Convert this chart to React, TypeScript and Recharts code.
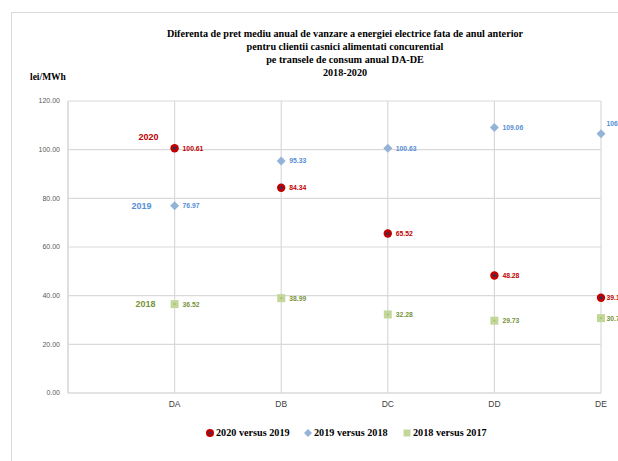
import React from "react";
import { ScatterChart, Scatter, XAxis, YAxis, CartesianGrid, LabelList } from "recharts";

const categories = ["DA", "DB", "DC", "DD", "DE"];
const values2020 = [100.61, 84.34, 65.52, 48.28, 39.13];
const values2019 = [76.97, 95.33, 100.63, 109.06, 106.54];
const values2018 = [36.52, 38.99, 32.28, 29.73, 30.77];
const yTicks = [0, 20, 40, 60, 80, 100, 120];
const titleLines = [
  "Diferenta de pret mediu anual de vanzare a energiei electrice fata de anul anterior",
  "pentru clientii casnici alimentati concurential",
  "pe transele de consum anual DA-DE",
  "2018-2020",
];
const seriesNames = ["2020 versus 2019", "2019 versus 2018", "2018 versus 2017"];
const yearTags = ["2020", "2019", "2018"];

const toPoints = (vals: number[]) => vals.map((v, i) => ({ x: i + 1, y: v, cat: categories[i] }));
const data2020 = toPoints(values2020);
const data2019 = toPoints(values2019);
const data2018 = toPoints(values2018);

const RED = "#C00000";
const BLUE = "#95B3D7";
const GREEN = "#C4D79B";
const BLUE_TXT = "#558ED5";
const GREEN_TXT = "#77933C";

const CircleShape = (p: any) => (
  <g>
    <circle cx={p.cx} cy={p.cy} r={4.2} fill={RED} />
    <circle cx={p.cx} cy={p.cy} r={1.4} fill="#1F3864" />
  </g>
);
const DiamondShape = (p: any) => (
  <polygon
    points={`${p.cx},${p.cy - 4.5} ${p.cx + 4.5},${p.cy} ${p.cx},${p.cy + 4.5} ${p.cx - 4.5},${p.cy}`}
    fill={BLUE}
  />
);
const SquareShape = (p: any) => (
  <g>
    <rect x={p.cx - 4} y={p.cy - 4} width={8} height={8} fill={GREEN} />
    <rect x={p.cx - 0.8} y={p.cy - 0.8} width={1.6} height={1.6} fill="#9BBB59" />
  </g>
);

const makeValueLabel = (color: string, lastDy = 0) => (props: any) => {
  const { x, y, width, height, value, index } = props;
  const cx = x + (width || 0) / 2;
  const cy = y + (height || 0) / 2;
  const isLast = index === categories.length - 1;
  return (
    <text
      x={cx + (isLast ? 5.5 : 8)}
      y={cy + (isLast ? lastDy : 0)}
      dy="0.35em"
      fill={color}
      fontSize={6.8}
      fontWeight="bold"
      fontFamily="'Liberation Sans', Arial, sans-serif"
    >
      {Number(value).toFixed(2)}
    </text>
  );
};

const makeYearLabel = (tag: string, color: string, dx: number, dy: number) => (props: any) => {
  const { x, y, width, height, index } = props;
  if (index !== 0) return null;
  const cx = x + (width || 0) / 2;
  const cy = y + (height || 0) / 2;
  return (
    <text x={cx + dx} y={cy + dy} dy="0.35em" textAnchor="middle" fill={color} fontSize={9} fontWeight="bold" fontFamily="'Liberation Sans', Arial, sans-serif">
      {tag}
    </text>
  );
};

const legendItems = [
  { name: seriesNames[0], kind: "circle", left: 205 },
  { name: seriesNames[1], kind: "diamond", left: 303 },
  { name: seriesNames[2], kind: "square", left: 402 },
];

const LegendMarker = ({ kind }: { kind: string }) => (
  <svg width={10} height={10} style={{ marginRight: 1 }}>
    {kind === "circle" && (
      <g>
        <circle cx={5} cy={5} r={4} fill={RED} />
        <circle cx={5} cy={5} r={1.3} fill="#1F3864" />
      </g>
    )}
    {kind === "diamond" && <polygon points="5,1 9,5 5,9 1,5" fill={BLUE} />}
    {kind === "square" && <rect x={1.5} y={1.5} width={7} height={7} fill={GREEN} />}
  </svg>
);

export default function App() {
  return (
    <div style={{ position: "fixed", left: 0, top: 0, width: 618, height: 461, overflow: "hidden", background: "#fff" }}>
      <div style={{ position: "absolute", left: 11, top: 12, width: 700, height: 600, border: "1.5px solid #D9D9D9" }} />
      <div
        style={{
          position: "absolute",
          left: 0,
          top: 27,
          width: 690,
          textAlign: "center",
          fontFamily: "'Liberation Serif', 'Times New Roman', serif",
          fontWeight: "bold",
          fontSize: 10.2,
          lineHeight: "13px",
          color: "#000",
        }}
      >
        {titleLines.map((l) => (
          <div key={l}>{l}</div>
        ))}
      </div>
      <div
        style={{
          position: "absolute",
          left: 30,
          top: 72,
          fontFamily: "'Liberation Serif', 'Times New Roman', serif",
          fontWeight: "bold",
          fontSize: 9.5,
          color: "#000",
        }}
      >
        lei/MWh
      </div>
      <div style={{ position: "absolute", left: 0, top: 0 }}>
        <ScatterChart width={618} height={461} margin={{ top: 101, right: 17, bottom: 38, left: 8 }}>
          <CartesianGrid stroke="#D9D9D9" strokeWidth={1.2} />
          <XAxis
            type="number"
            dataKey="x"
            domain={[0, 5]}
            ticks={[1, 2, 3, 4, 5]}
            tickFormatter={(v: number) => categories[v - 1] ?? ""}
            height={30}
            axisLine={{ stroke: "#D9D9D9", strokeWidth: 1.2 }}
            tickLine={false}
            tick={{ fill: "#404040", fontSize: 8.5, fontFamily: "'Liberation Sans', Arial, sans-serif" }}
          />
          <YAxis
            type="number"
            dataKey="y"
            domain={[0, 120]}
            ticks={yTicks}
            tickFormatter={(v: number) => v.toFixed(2)}
            width={60}
            axisLine={{ stroke: "#D9D9D9", strokeWidth: 1.2 }}
            tickLine={false}
            tick={{ fill: "#595959", fontSize: 7, fontFamily: "'Liberation Sans', Arial, sans-serif" }}
          />
          <Scatter name={seriesNames[2]} data={data2018} shape={SquareShape} isAnimationActive={false}>
            <LabelList dataKey="y" content={makeValueLabel(GREEN_TXT)} />
            <LabelList dataKey="y" content={makeYearLabel(yearTags[2], GREEN_TXT, -29, 0)} />
          </Scatter>
          <Scatter name={seriesNames[1]} data={data2019} shape={DiamondShape} isAnimationActive={false}>
            <LabelList dataKey="y" content={makeValueLabel(BLUE_TXT, -10)} />
            <LabelList dataKey="y" content={makeYearLabel(yearTags[1], BLUE_TXT, -33, 0)} />
          </Scatter>
          <Scatter name={seriesNames[0]} data={data2020} shape={CircleShape} isAnimationActive={false}>
            <LabelList dataKey="y" content={makeValueLabel(RED)} />
            <LabelList dataKey="y" content={makeYearLabel(yearTags[0], RED, -26, -11)} />
          </Scatter>
        </ScatterChart>
      </div>
      {legendItems.map((it) => (
        <div
          key={it.name}
          style={{
            position: "absolute",
            left: it.left,
            top: 427,
            display: "flex",
            alignItems: "center",
            fontFamily: "'Liberation Serif', 'Times New Roman', serif",
            fontWeight: "bold",
            fontSize: 10.2,
            color: "#000",
            whiteSpace: "nowrap",
          }}
        >
          <LegendMarker kind={it.kind} />
          <span>{it.name}</span>
        </div>
      ))}
    </div>
  );
}
